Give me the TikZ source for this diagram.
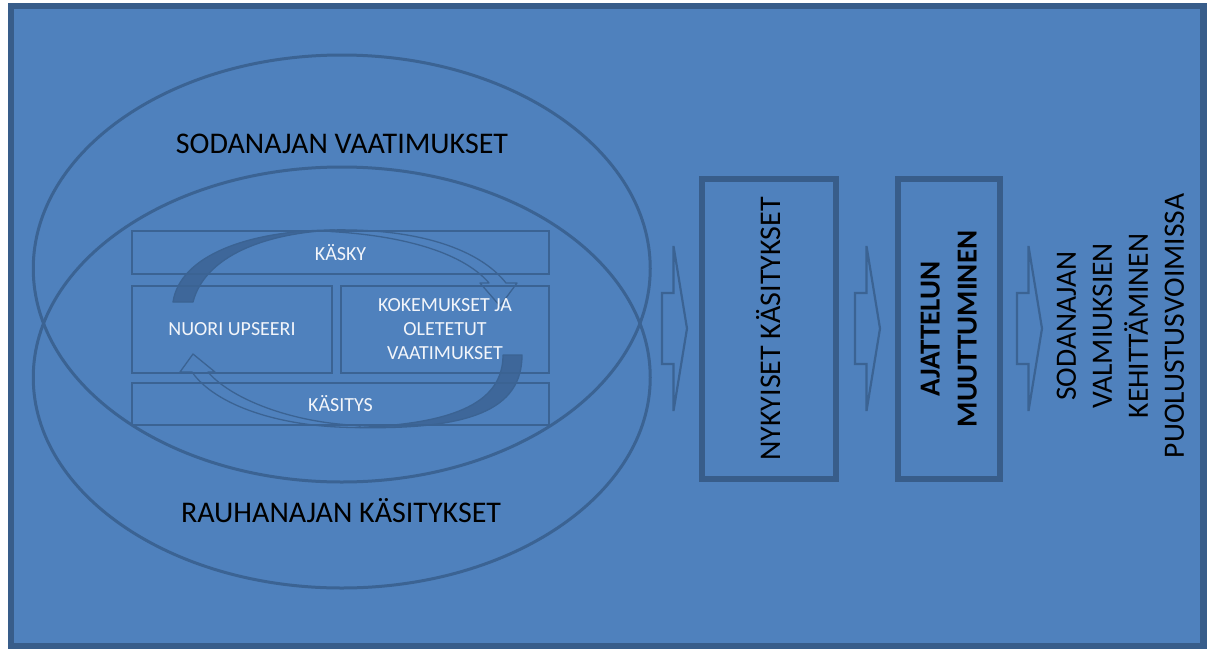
\documentclass[tikz,border=0pt]{standalone}
\usepackage{fontspec}
\setmainfont{Carlito}
\usetikzlibrary{shapes.geometric}
\definecolor{bgblue}{HTML}{4F81BD}
\definecolor{frameblue}{HTML}{385D8A}
\definecolor{lineblue}{HTML}{3B6393}
\definecolor{shadeblue}{HTML}{3E679A}
\definecolor{softwhite}{HTML}{F2F5FA}
\tikzset{
  headline/.style={font=\fontsize{30}{35}\selectfont, text=black, inner sep=0pt},
  cellbox/.style={draw=lineblue, line width=2pt, rectangle, inner sep=0pt,
    font=\fontsize{20}{24}\selectfont, text=softwhite, align=center},
  stagebox/.style={draw=frameblue, line width=6pt, rectangle, inner sep=0pt,
    rotate=90, minimum width=300pt, font=\fontsize{30}{37}\selectfont,
    text=black, align=center},
  ring/.style={draw=lineblue, line width=3pt, ellipse, inner sep=0pt},
  loopback/.style={fill=shadeblue, draw=lineblue, line width=1.3pt, line join=round},
  loopfront/.style={draw=lineblue, line width=1.3pt, line join=round},
  blockline/.style={draw=lineblue, line width=2.2pt, line join=miter},
  pics/blockarrow/.style={code={
    \draw[blockline] (0,-35.5) -- (11.5,-35.5) -- (11.5,-82.5) -- (25,0)
      -- (11.5,82.5) -- (11.5,35.5) -- (0,35.5) -- cycle;}}
}
\begin{document}
\begin{tikzpicture}[x=1pt,y=-1pt]
\useasboundingbox (0,0) rectangle (1215,648);
\fill[white] (0,0) rectangle (1215,648);
% outer panel
\draw[frameblue, line width=6.5pt, fill=bgblue] (11,6) rectangle (1203.5,646);

% the two overlapping domains
\node[ring, minimum width=617pt, minimum height=427pt] (war) at (341.75,268.5) {};
\node[ring, minimum width=617pt, minimum height=421pt] (peace) at (341.75,377.5) {};
\node[headline, anchor=base] (warreq) at (342,153) {SODANAJAN VAATIMUKSET};
\node[headline, anchor=base] (peaceview) at (341,522) {RAUHANAJAN KÄSITYKSET};

% cycle arrows: upper one (order), back face then front face
\path[loopback] (173,302) .. controls (180,255) and (250,230) .. (335,230)
  .. controls (265,233) and (205,256) .. (193,302) -- cycle;
\path[loopfront] (330,230) .. controls (420,228) and (480,250) .. (506,283)
  -- (517,283) -- (500,306) -- (480,283) -- (489,283)
  .. controls (465,255) and (410,236) .. (330,231.5) -- cycle;
% lower one (perception)
\path[loopback] (522,355) .. controls (522,410) and (470,430) .. (355,427.5)
  .. controls (460,424) and (503,400) .. (503,355) -- cycle;
\path[loopfront] (360,427.5) .. controls (280,428) and (215,405) .. (192,372)
  -- (180,372) -- (193,354) -- (215,372) -- (208,372)
  .. controls (230,398) and (290,423) .. (360,425.5) -- cycle;

% the cycle's cells
\node[cellbox, minimum width=417pt, minimum height=43pt] (order) at (340.5,252.5) {KÄSKY};
\node[cellbox, minimum width=200pt, minimum height=87pt] (officer) at (232,329.5) {NUORI UPSEERI};
\node[cellbox, minimum width=208pt, minimum height=87pt] (experience) at (445,329.5)
  {KOKEMUKSET JA\\OLETETUT\\VAATIMUKSET};
\node[cellbox, minimum width=417pt, minimum height=42pt] (perception) at (340.5,404) {KÄSITYS};

% stages to the right
\node[stagebox, minimum height=134pt] (current) at (769,329) {NYKYISET KÄSITYKSET};
\node[stagebox, minimum height=102.5pt, font=\fontsize{29}{37}\selectfont\bfseries]
  (change) at (948.75,329) {AJATTELUN\\MUUTTUMINEN};
\node[rotate=90, align=center, inner sep=0pt, font=\fontsize{29.5}{36}\selectfont,
  text=black] (goal) at (1120.5,326)
  {SODANAJAN\\VALMIUKSIEN\\KEHITTÄMINEN\\PUOLUSTUSVOIMISSA};

% transitions between stages
\coordinate (a1) at (662,328.5);
\coordinate (a2) at (855,328.5);
\coordinate (a3) at (1017,328.5);
\pic at (a1) {blockarrow};
\pic at (a2) {blockarrow};
\pic at (a3) {blockarrow};
\end{tikzpicture}
\end{document}
